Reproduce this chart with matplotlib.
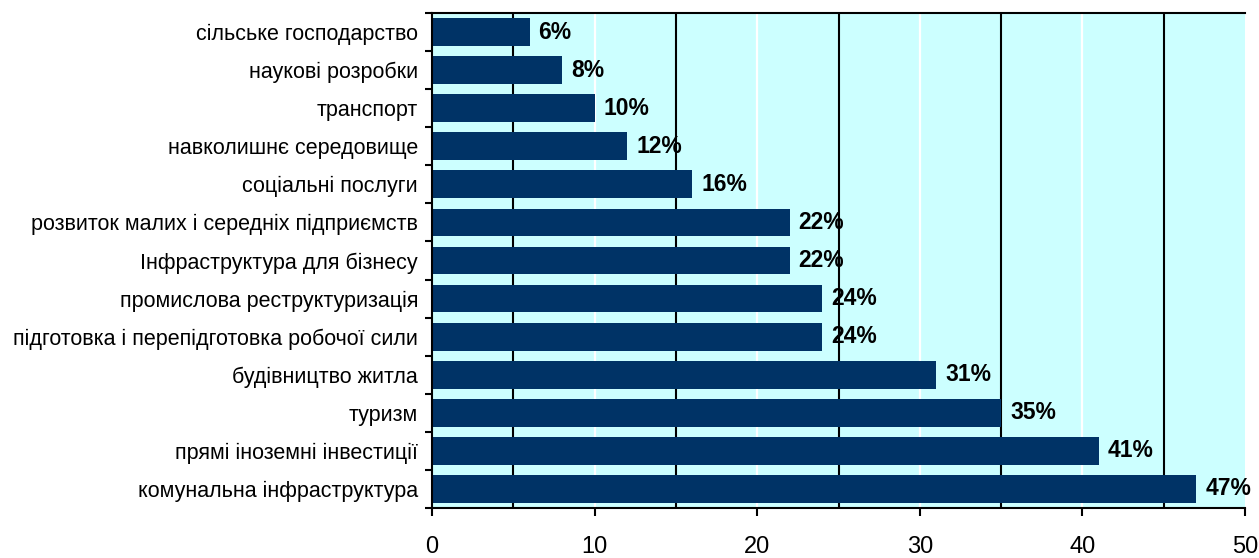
import numpy as np
import matplotlib
matplotlib.use("Agg")
import matplotlib.pyplot as plt

plt.rcParams['font.family'] = ['Liberation Sans', 'DejaVu Sans']

# data, top to bottom as in the picture
categories = [
    "сільське господарство",
    "наукові розробки",
    "транспорт",
    "навколишнє середовище",
    "соціальні послуги",
    "розвиток малих і середніх підприємств",
    "Інфраструктура для бізнесу",
    "промислова реструктуризація",
    "підготовка і перепідготовка робочої сили",
    "будівництво житла",
    "туризм",
    "прямі іноземні інвестиції",
    "комунальна інфраструктура",
]
values = [6, 8, 10, 12, 16, 22, 22, 24, 24, 31, 35, 41, 47]
xticks = [0, 10, 20, 30, 40, 50]

fig = plt.figure(figsize=(12.59, 5.58), dpi=100)
ax = fig.add_axes([432 / 1259, 1 - 508 / 558, (1245 - 432) / 1259, (508 - 13) / 558])
ax.set_facecolor("#CCFFFF")

y = np.arange(len(categories))
ax.barh(y, values, height=0.73, color="#003366", zorder=3)

# gridlines: white at tens, black at fives
for gx in [10, 20, 30, 40]:
    ax.axvline(gx, color="white", lw=1.6, zorder=1)
for gx in [5, 15, 25, 35, 45]:
    ax.axvline(gx, color="black", lw=1.5, zorder=2)

for yi, v in zip(y, values):
    ax.text(v + 0.55, yi, f"{v}%", va="center", ha="left", fontsize=16.5,
            fontweight="bold", zorder=5, clip_on=False)

ax.set_xlim(0, 50)
ax.set_ylim(len(categories) - 0.5, -0.5)
ax.set_xticks(xticks)
ax.set_xticklabels([str(t) for t in xticks], fontsize=17)
ax.set_yticks(y)
ax.set_yticklabels(categories, fontsize=15.5)
ax.tick_params(axis="y", which="major", length=0, pad=10)
ax.set_yticks(np.arange(-0.5, len(categories) + 0.5, 1), minor=True)
ax.tick_params(axis="y", which="minor", length=5, width=1.5, direction="out")
ax.tick_params(axis="x", length=6, width=1.5, direction="out", pad=14)

for side in ["left", "bottom", "top"]:
    ax.spines[side].set_linewidth(1.5)
    ax.spines[side].set_zorder(4)
ax.spines["right"].set_visible(False)

fig.savefig("out.png", dpi=100)
